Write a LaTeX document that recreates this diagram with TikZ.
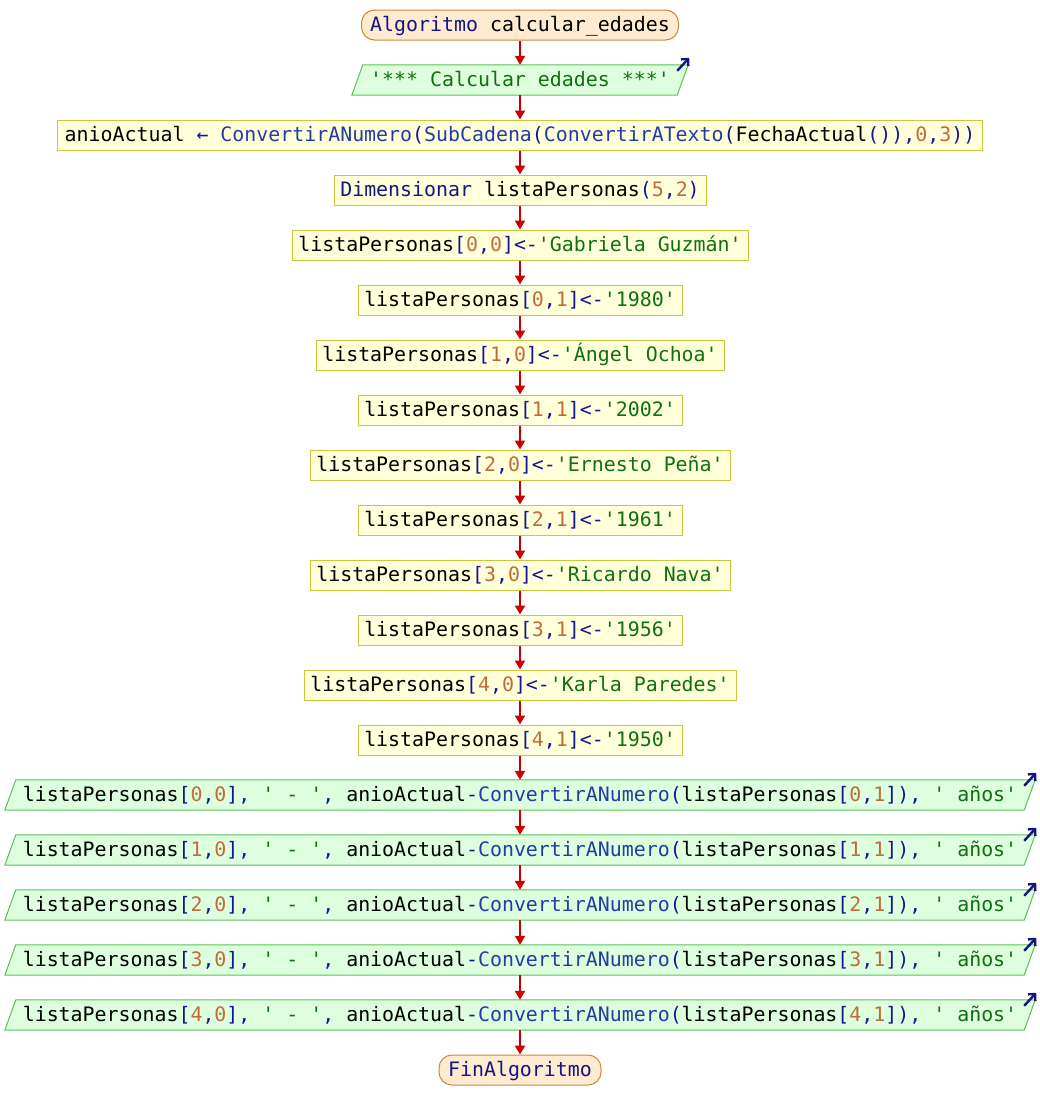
\documentclass[tikz,border=0pt]{standalone}
\usepackage{fontspec}
\setmonofont{DejaVu Sans Mono}
\usetikzlibrary{arrows.meta,backgrounds}
\definecolor{kwcol}{RGB}{22,22,130}
\definecolor{fncol}{RGB}{35,60,165}
\definecolor{opcol}{RGB}{20,20,150}
\definecolor{numcol}{RGB}{192,108,58}
\definecolor{strcol}{RGB}{16,112,16}
\definecolor{termfill}{RGB}{255,235,208}
\definecolor{termline}{RGB}{200,137,60}
\definecolor{procfill}{RGB}{255,255,218}
\definecolor{procline}{RGB}{200,200,60}
\definecolor{outfill}{RGB}{222,255,222}
\definecolor{outline}{RGB}{92,190,92}
\definecolor{flowred}{RGB}{204,0,0}
\definecolor{iconblue}{RGB}{20,20,130}
\newcommand{\Kkw}[1]{\textcolor{kwcol}{#1}}
\newcommand{\Kfn}[1]{\textcolor{fncol}{#1}}
\newcommand{\Kop}[1]{\textcolor{opcol}{#1}}
\newcommand{\Knum}[1]{\textcolor{numcol}{#1}}
\newcommand{\Kstr}[1]{\textcolor{strcol}{#1}}
\newcommand{\myout}[4]{%
  \node[outtext, minimum width=#3] (#1) at (#2) {#4};
  \begin{scope}[on background layer]
    \draw[outshape] ([xshift=5.5pt]#1.north west) -- ([xshift=5.5pt]#1.north east) -- ([xshift=-5.5pt]#1.south east) -- ([xshift=-5.5pt]#1.south west) -- cycle;
  \end{scope}
  \draw[icon] ([xshift=-5.5pt,yshift=-6pt]#1.north east) -- ([xshift=6.5pt,yshift=7pt]#1.north east);
}
\newcommand{\Kasg}[3]{listaPersonas\Kop{[}\Knum{#1}\Kop{,}\Knum{#2}\Kop{]<-}\Kstr{'#3'}}
\newcommand{\Kprt}[1]{listaPersonas\Kop{[}\Knum{#1}\Kop{,}\Knum{0}\Kop{],} \Kstr{' - '}\Kop{,} anioActual\Kop{-}\Kfn{ConvertirANumero}\Kop{(}listaPersonas\Kop{[}\Knum{#1}\Kop{,}\Knum{1}\Kop{]),} \Kstr{' años'}}
\begin{document}
\begin{tikzpicture}[x=1pt,y=-1pt,
  every node/.style={font=\ttfamily\fontsize{19.9}{24}\selectfont, text=black, inner sep=0pt, text height=16pt, text depth=3pt},
  term/.style={draw=termline, fill=termfill, line width=1pt, rounded corners=13pt, minimum height=30pt},
  proc/.style={draw=procline, fill=procfill, line width=1pt, minimum height=30pt},
  outtext/.style={minimum height=30pt},
  outshape/.style={draw=outline, fill=outfill, line width=1pt},
  flow/.style={draw=flowred, line width=2pt, -{Triangle[length=9pt,width=10pt]}},
  icon/.style={draw=iconblue, line width=2.4pt, -{Straight Barb[length=5pt,width=10pt]}}
]
\useasboundingbox (0,0) rectangle (1040,1120);
\node[term, minimum width=317pt] (s) at (520,25) {\Kkw{Algoritmo} calcular\_edades};
\myout{o1}{520,80}{325pt}{\Kstr{'*** Calcular edades ***'}}
\node[proc, minimum width=925pt] (p1) at (520,135) {anioActual \Kop{←} \Kfn{ConvertirANumero}\Kop{(}\Kfn{SubCadena}\Kop{(}\Kfn{ConvertirATexto}\Kop{(}FechaActual\Kop{()),}\Knum{0}\Kop{,}\Knum{3}\Kop{))}};
\node[proc, minimum width=372pt] (p2) at (520,190) {\Kkw{Dimensionar} listaPersonas\Kop{(}\Knum{5}\Kop{,}\Knum{2}\Kop{)}};
\node[proc, minimum width=456pt] (a00) at (520,245) {\Kasg{0}{0}{Gabriela Guzmán}};
\node[proc, minimum width=324pt] (a01) at (520,300) {\Kasg{0}{1}{1980}};
\node[proc, minimum width=408pt] (a10) at (520,355) {\Kasg{1}{0}{Ángel Ochoa}};
\node[proc, minimum width=324pt] (a11) at (520,410) {\Kasg{1}{1}{2002}};
\node[proc, minimum width=420pt] (a20) at (520,465) {\Kasg{2}{0}{Ernesto Peña}};
\node[proc, minimum width=324pt] (a21) at (520,520) {\Kasg{2}{1}{1961}};
\node[proc, minimum width=420pt] (a30) at (520,575) {\Kasg{3}{0}{Ricardo Nava}};
\node[proc, minimum width=324pt] (a31) at (520,630) {\Kasg{3}{1}{1956}};
\node[proc, minimum width=432pt] (a40) at (520,685) {\Kasg{4}{0}{Karla Paredes}};
\node[proc, minimum width=324pt] (a41) at (520,740) {\Kasg{4}{1}{1950}};
\myout{o2}{520,795}{1019pt}{\Kprt{0}}
\myout{o3}{520,850}{1019pt}{\Kprt{1}}
\myout{o4}{520,905}{1019pt}{\Kprt{2}}
\myout{o5}{520,960}{1019pt}{\Kprt{3}}
\myout{o6}{520,1015}{1019pt}{\Kprt{4}}
\node[term, minimum width=162pt] (e) at (520,1070) {\Kkw{FinAlgoritmo}};
\foreach \a/\b in {s/o1,o1/p1,p1/p2,p2/a00,a00/a01,a01/a10,a10/a11,a11/a20,a20/a21,a21/a30,a30/a31,a31/a40,a40/a41,a41/o2,o2/o3,o3/o4,o4/o5,o5/o6,o6/e}
  \draw[flow] (\a.south) -- (\a.south |- \b.north);
\end{tikzpicture}
\end{document}
